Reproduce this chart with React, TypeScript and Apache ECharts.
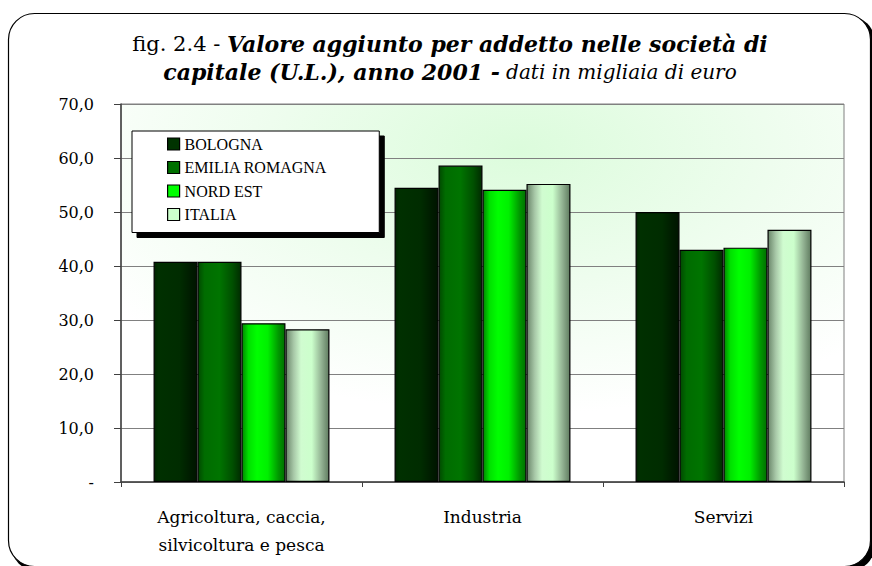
import React, { useEffect, useRef } from "react";
import * as echarts from "echarts";

const categories = ["Agricoltura, caccia,\nsilvicoltura e pesca", "Industria", "Servizi"];
const seriesNames = ["BOLOGNA", "EMILIA ROMAGNA", "NORD EST", "ITALIA"];
const bologna = [40.8, 54.5, 50.0];
const emilia = [40.8, 58.6, 43.0];
const nordEst = [29.4, 54.1, 43.4];
const italia = [28.3, 55.2, 46.7];
const yMin = 0;
const yMax = 70;
const yStep = 10;

const flatColors = ["#003300", "#007000", "#00ff00", "#ccffcc"];
const SERIF = "'DejaVu Serif', 'Liberation Serif', serif";
const TIMES = "'Liberation Serif', serif";

function grad(stops: [number, string][]) {
  return new echarts.graphic.LinearGradient(
    0, 0, 1, 0,
    stops.map(([offset, color]) => ({ offset, color }))
  );
}

const barGradients = [
  grad([[0, "#002400"], [0.1, "#003000"], [0.6, "#002c00"], [0.85, "#001c00"], [1, "#001400"]]),
  grad([[0, "#004a00"], [0.15, "#006c00"], [0.5, "#007400"], [0.8, "#005000"], [1, "#002c00"]]),
  grad([[0, "#008800"], [0.15, "#00e000"], [0.35, "#00ff00"], [0.6, "#00f000"], [0.85, "#009800"], [1, "#007000"]]),
  grad([[0, "#6a866a"], [0.18, "#a8c8a8"], [0.35, "#d0fcd0"], [0.6, "#ccffcc"], [0.82, "#94b494"], [1, "#607c60"]]),
];

export default function App() {
  const ref = useRef<HTMLDivElement>(null);
  useEffect(() => {
    document.body.style.margin = "0";
    if (!ref.current) return;
    const chart = echarts.init(ref.current, null, { renderer: "svg" });
    const dataSets = [bologna, emilia, nordEst, italia];
    chart.setOption({
      animation: false,
      backgroundColor: "#ffffff",
      graphic: [
        {
          type: "rect",
          z: -100,
          silent: true,
          shape: { x: 11, y: 16, width: 864, height: 555, r: 26 },
          style: { fill: "#000000" },
        },
        {
          type: "rect",
          z: -99,
          silent: true,
          shape: { x: 8.5, y: 13.5, width: 862, height: 553, r: 26 },
          style: { fill: "#ffffff", stroke: "#000000", lineWidth: 1.2 },
        },
      ],
      title: {
        left: 445,
        top: 25,
        textAlign: "center",
        text:
          "{a|fig. 2.4 - }{b|Valore aggiunto per addetto nelle società di}\n{b|capitale (U.L.), anno 2001 -}{c| dati in migliaia di euro}",
        textStyle: {
          fontWeight: "normal",
          rich: {
            a: { fontFamily: SERIF, fontSize: 21, fontWeight: "normal", color: "#000", lineHeight: 28 },
            b: { fontFamily: SERIF, fontSize: 22, fontWeight: "bold", fontStyle: "italic", color: "#000", lineHeight: 28 },
            c: { fontFamily: SERIF, fontSize: 20, fontWeight: "normal", fontStyle: "italic", color: "#000", lineHeight: 28 },
          },
        },
      },
      legend: {
        orient: "vertical",
        left: 132,
        top: 131,
        padding: [5, 52, 10, 35],
        itemGap: 7.5,
        itemWidth: 12,
        itemHeight: 12,
        icon: "rect",
        backgroundColor: "#ffffff",
        borderColor: "#000000",
        borderWidth: 1,
        shadowColor: "#000000",
        shadowBlur: 0,
        shadowOffsetX: 5,
        shadowOffsetY: 5,
        textStyle: { fontFamily: TIMES, fontSize: 16, color: "#000", lineHeight: 16 },
        data: seriesNames.map((n, i) => ({
          name: n,
          itemStyle: { color: flatColors[i], borderColor: "#000", borderWidth: 1.2 },
        })),
      },
      grid: {
        left: 121,
        top: 104,
        right: 28,
        bottom: 84,
        show: true,
        borderColor: "#808080",
        borderWidth: 1,
        backgroundColor: new echarts.graphic.RadialGradient(0.55, 0.12, 0.7, [
          { offset: 0, color: "#dcfcdc" },
          { offset: 0.5, color: "#eefdee" },
          { offset: 1, color: "#ffffff" },
        ]),
      },
      xAxis: {
        type: "category",
        data: categories,
        axisLine: { show: true, lineStyle: { color: "#404040", width: 1.5 } },
        axisTick: { show: true, length: 5, lineStyle: { color: "#404040" } },
        axisLabel: {
          fontFamily: SERIF,
          fontSize: 17,
          color: "#000",
          lineHeight: 28,
          margin: 21,
          verticalAlign: "top",
        },
      },
      yAxis: {
        type: "value",
        min: yMin,
        max: yMax,
        interval: yStep,
        axisLine: { show: true, lineStyle: { color: "#404040", width: 1.5 } },
        axisTick: { show: true, length: 7, lineStyle: { color: "#404040" } },
        splitLine: { show: true, lineStyle: { color: "#808080", width: 1 } },
        axisLabel: {
          fontFamily: SERIF,
          fontSize: 16,
          color: "#000",
          margin: 27,
          formatter: (v: number) => (v === 0 ? "-" : v.toFixed(1).replace(".", ",")),
        },
      },
      series: dataSets.map((d, i) => ({
        name: seriesNames[i],
        type: "bar",
        data: d,
        barGap: "0%",
        barCategoryGap: "27%",
        itemStyle: { color: barGradients[i], borderColor: "#000", borderWidth: 1.2 },
      })),
    });
    return () => chart.dispose();
  }, []);
  return <div ref={ref} style={{ width: 872, height: 566 }} />;
}
